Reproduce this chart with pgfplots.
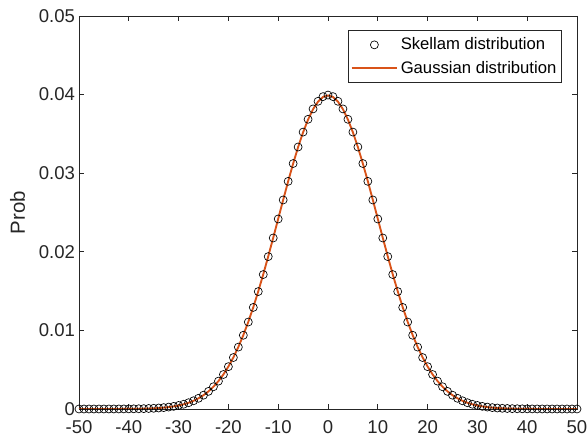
\documentclass[border=0pt]{standalone}
\usepackage{fontspec}
\setmainfont{Liberation Sans}
\usepackage{pgfplots}
\pgfplotsset{compat=1.18}
\usepackage{pgfplotstable}
\usetikzlibrary{calc}

\definecolor{mlorange}{rgb}{0.85,0.325,0.098}
\definecolor{mlgray}{rgb}{0.15,0.15,0.15}

% Skellam pmf (mu1 = mu2 = 50)
\pgfplotstableread{
x y
-50 0.0000002
-49 0.0000003
-48 0.0000005
-47 0.0000007
-46 0.0000012
-45 0.0000018
-44 0.0000028
-43 0.0000043
-42 0.0000065
-41 0.0000097
-40 0.0000143
-39 0.0000211
-38 0.0000307
-37 0.0000444
-36 0.0000636
-35 0.0000902
-34 0.000126
-33 0.000176
-32 0.000243
-31 0.000332
-30 0.000449
-29 0.000601
-28 0.000798
-27 0.001047
-26 0.001363
-25 0.001756
-24 0.002241
-23 0.002832
-22 0.003543
-21 0.004391
-20 0.005388
-19 0.006547
-18 0.007875
-17 0.009382
-16 0.011065
-15 0.012923
-14 0.014942
-13 0.017106
-12 0.019390
-11 0.021760
-10 0.024177
-9 0.026596
-8 0.028964
-7 0.031229
-6 0.033335
-5 0.035230
-4 0.036859
-3 0.038178
-2 0.039149
-1 0.039744
0 0.039944
1 0.039744
2 0.039149
3 0.038178
4 0.036859
5 0.035230
6 0.033335
7 0.031229
8 0.028964
9 0.026596
10 0.024177
11 0.021760
12 0.019390
13 0.017106
14 0.014942
15 0.012923
16 0.011065
17 0.009382
18 0.007875
19 0.006547
20 0.005388
21 0.004391
22 0.003543
23 0.002832
24 0.002241
25 0.001756
26 0.001363
27 0.001047
28 0.000798
29 0.000601
30 0.000449
31 0.000332
32 0.000243
33 0.000176
34 0.000126
35 0.0000902
36 0.0000636
37 0.0000444
38 0.0000307
39 0.0000211
40 0.0000143
41 0.0000097
42 0.0000065
43 0.0000043
44 0.0000028
45 0.0000018
46 0.0000012
47 0.0000007
48 0.0000005
49 0.0000003
50 0.0000002
}\skellam

% Gaussian pdf (mean 0, sd 10)
\pgfplotstableread{
x y
-50 0.0000000
-49 0.0000000
-48 0.0000000
-47 0.000001
-46 0.000001
-45 0.000002
-44 0.000002
-43 0.000004
-42 0.000006
-41 0.000009
-40 0.000013
-39 0.000020
-38 0.000029
-37 0.000042
-36 0.000061
-35 0.000087
-34 0.000123
-33 0.000172
-32 0.000238
-31 0.000327
-30 0.000443
-29 0.000595
-28 0.000792
-27 0.001042
-26 0.001358
-25 0.001753
-24 0.002239
-23 0.002833
-22 0.003547
-21 0.004398
-20 0.005399
-19 0.006562
-18 0.007895
-17 0.009405
-16 0.011092
-15 0.012952
-14 0.014973
-13 0.017137
-12 0.019419
-11 0.021785
-10 0.024197
-9 0.026609
-8 0.028969
-7 0.031225
-6 0.033322
-5 0.035207
-4 0.036827
-3 0.038139
-2 0.039104
-1 0.039695
0 0.039894
1 0.039695
2 0.039104
3 0.038139
4 0.036827
5 0.035207
6 0.033322
7 0.031225
8 0.028969
9 0.026609
10 0.024197
11 0.021785
12 0.019419
13 0.017137
14 0.014973
15 0.012952
16 0.011092
17 0.009405
18 0.007895
19 0.006562
20 0.005399
21 0.004398
22 0.003547
23 0.002833
24 0.002239
25 0.001753
26 0.001358
27 0.001042
28 0.000792
29 0.000595
30 0.000443
31 0.000327
32 0.000238
33 0.000172
34 0.000123
35 0.000087
36 0.000061
37 0.000042
38 0.000029
39 0.000020
40 0.000013
41 0.000009
42 0.000006
43 0.000004
44 0.000002
45 0.000002
46 0.000001
47 0.000001
48 0.0000000
49 0.0000000
50 0.0000000
}\gauss

\begin{document}
\begin{tikzpicture}
\begin{axis}[
    scale only axis,
    width=373.5pt, height=294.75pt,
    xmin=-50, xmax=50,
    ymin=0, ymax=0.05,
    xtick={-50,-40,...,50},
    ytick={0,0.01,0.02,0.03,0.04,0.05},
    yticklabels={0,0.01,0.02,0.03,0.04,0.05},
    scaled y ticks=false,
    /pgf/number format/assume math mode=true,
    tick align=inside,
    major tick length=3.75pt,
    axis line style={mlgray, line width=0.5pt},
    tick style={mlgray, line width=0.5pt},
    tick label style={font=\fontsize{13.9}{16}\selectfont, text=mlgray},
    xticklabel style={yshift=-5pt},
    yticklabel style={xshift=0.5pt},
    ylabel={Prob},
    ylabel style={font=\fontsize{15.3}{18}\selectfont, text=mlgray, at={(axis description cs:-0.1235,0.5)}, anchor=center},
    legend style={at={(0.970,0.964)}, anchor=north east, draw=mlgray, line width=0.5pt,
        font=\fontsize{12.5}{15}\selectfont, inner xsep=2pt, inner ysep=3.5pt, row sep=3pt,
        /tikz/every even column/.append style={column sep=2pt}},
    legend cell align=left,
    legend image code/.code={\draw[mark repeat=2, mark phase=2] plot coordinates {(0cm,0cm) (0.6cm,0cm) (1.2cm,0cm)};},
]
\addplot[only marks, mark=o, mark size=3pt, mark options={line width=0.5pt, black}] table {\skellam};
\addlegendentry{Skellam distribution}
\addplot[mlorange, line width=1.4pt, no marks] table {\gauss};
\addlegendentry{Gaussian distribution}
\end{axis}
\pgfresetboundingbox
\path[use as bounding box] ($(current axis.south west)+(-59.25pt,-22.5pt)$) rectangle ($(current axis.north east)+(8.25pt,12pt)$);
\end{tikzpicture}
\end{document}
